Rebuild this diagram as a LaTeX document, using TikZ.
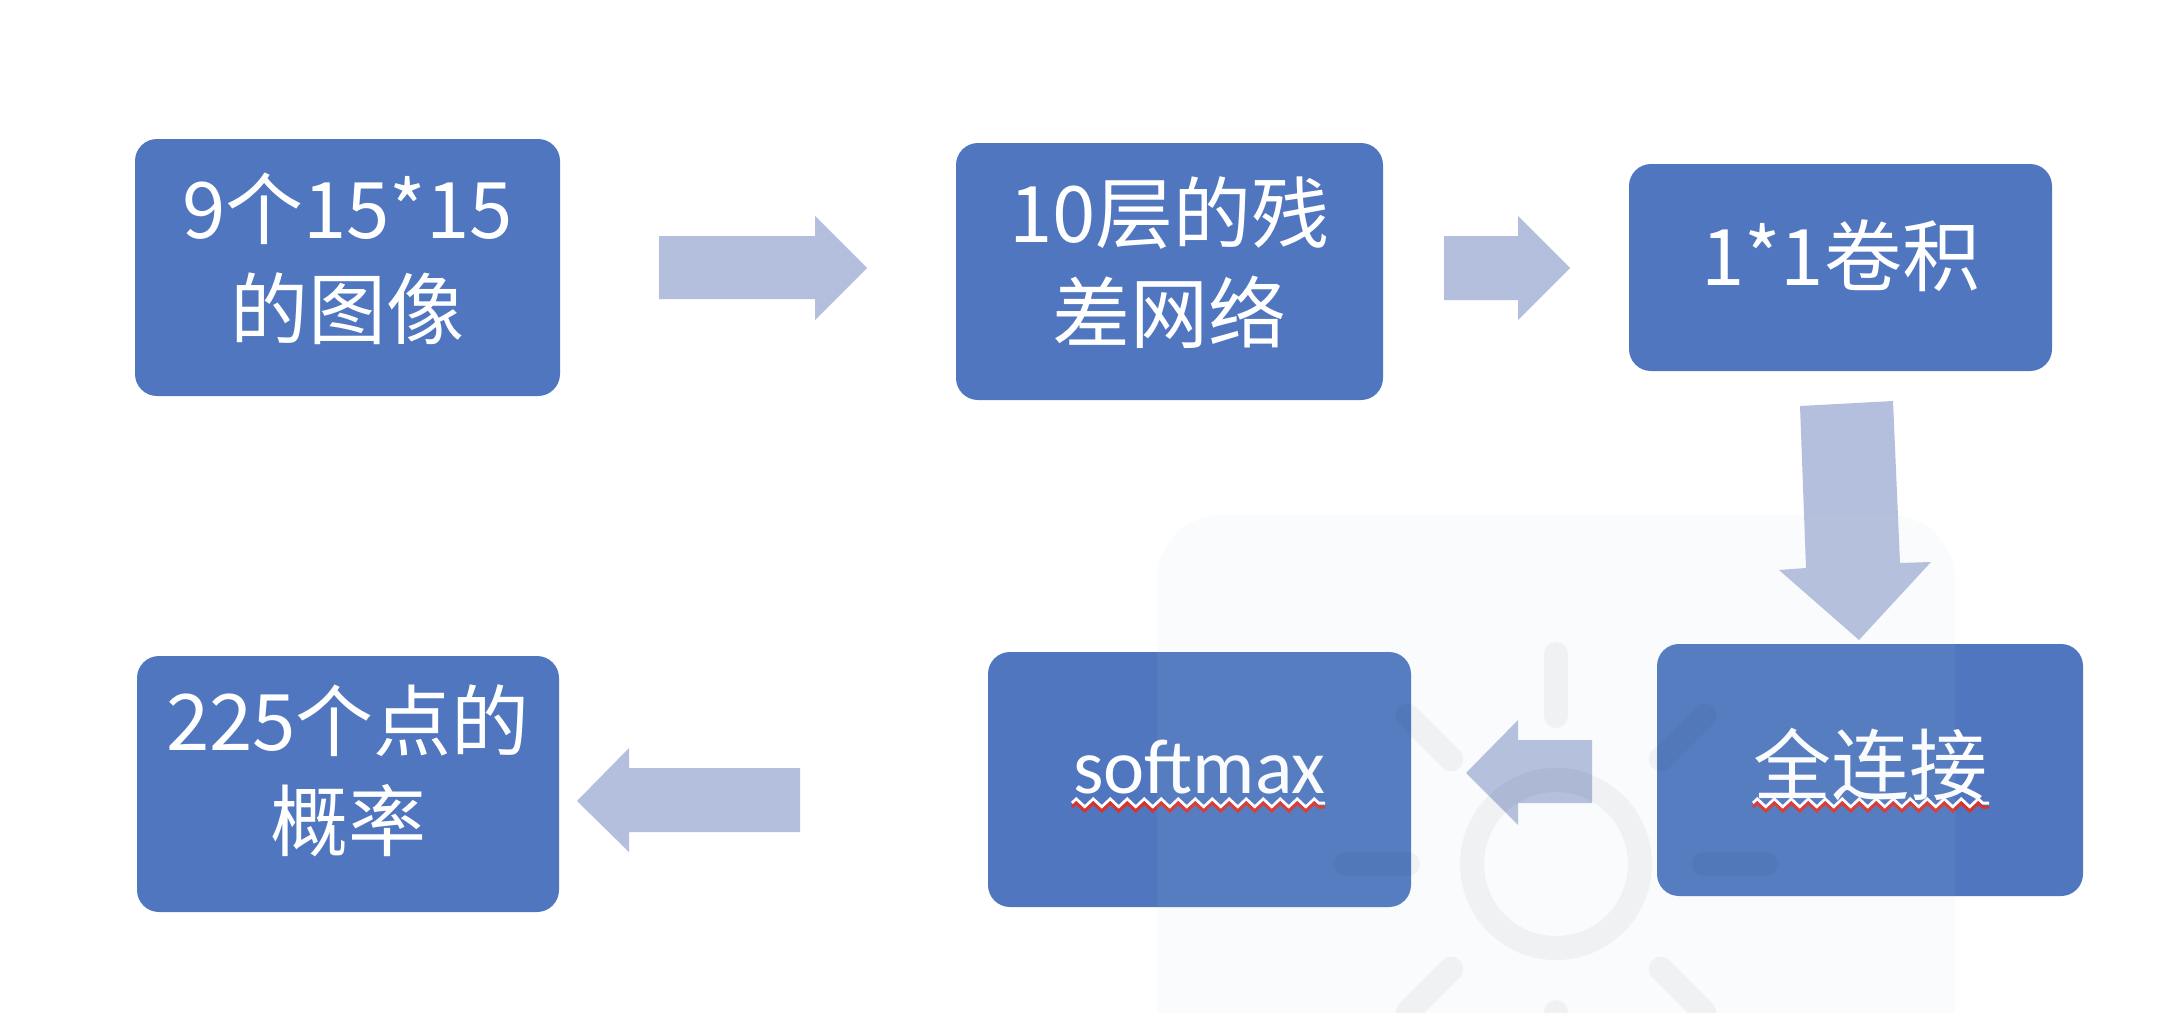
\documentclass[tikz,border=0pt]{standalone}
\usepackage{fontspec}
\newfontfamily\cjk{Noto Sans CJK SC}
\newfontfamily\latin{Carlito}
\usetikzlibrary{decorations.pathmorphing}
\definecolor{boxblue}{HTML}{4F76BF}
\definecolor{arrowblue}{HTML}{B4BFDD}
\definecolor{wmfill}{HTML}{C1D1E5}
\definecolor{squigred}{HTML}{D9342B}
\newcommand\twolines[2]{\begin{tabular}[t]{@{}c@{}}#1\\#2\end{tabular}}
\tikzset{
  stepbox/.style={fill=boxblue, rounded corners=22pt, text=white,
    font=\cjk\fontsize{78}{100}\selectfont, inner sep=0pt},
  blockarrow/.style={fill=arrowblue},
  ray/.style={line width=24pt, line cap=round, draw=black, opacity=0.04},
  squiggle/.style={decorate, decoration={zigzag, segment length=17pt, amplitude=4pt}, line width=3pt},
}
\begin{document}
\begin{tikzpicture}[x=1pt,y=-1pt]
\useasboundingbox (0,0) rectangle (2184,1012);
\fill[white] (0,0) rectangle (2184,1012);

% boxes
\node[stepbox, minimum width=425pt, minimum height=257pt, text height=0pt, text depth=59pt] (b1) at (347.5,267.5) {\twolines{9个15*15}{的图像}};
\node[stepbox, minimum width=427pt, minimum height=257pt, text height=0pt, text depth=59pt] (b2) at (1169.5,271.5) {\twolines{10层的残}{差网络}};
\node[stepbox, minimum width=423pt, minimum height=207pt, text height=35pt, text depth=0pt] (b3) at (1840.5,267.5) {1*1卷积};
\node[stepbox, minimum width=426pt, minimum height=252pt, text height=48pt, text depth=0pt] (b4) at (1870,770) {全连接};
\node[stepbox, minimum width=423pt, minimum height=255pt, text height=27pt, text depth=0pt, font=\latin\fontsize{78}{100}\selectfont] (b5) at (1199.5,779.5) {softmax};
\node[stepbox, minimum width=422pt, minimum height=256pt, text height=0pt, text depth=68pt] (b6) at (348,784) {\twolines{225个点的}{概率}};

% block arrows
\fill[blockarrow] (659,236) -- (815,236) -- (815,216) -- (867,268) -- (815,320) -- (815,299) -- (659,299) -- cycle;
\fill[blockarrow] (1444,236) -- (1518,236) -- (1518,216) -- (1570,268) -- (1518,320) -- (1518,300) -- (1444,300) -- cycle;
\fill[blockarrow] (1800,406) -- (1893,401) -- (1900,563) -- (1931,562) -- (1859,640) -- (1779,570) -- (1806,568) -- cycle;
\fill[blockarrow] (1592,740) -- (1518,740) -- (1518,720) -- (1466,773) -- (1518,825) -- (1518,803) -- (1592,803) -- cycle;
\fill[blockarrow] (800,768) -- (629,768) -- (629,748) -- (577,801) -- (629,852) -- (629,832) -- (800,832) -- cycle;

% spell-check squiggles
\draw[squiggle, white] (1072,803) -- (1325,803);
\draw[squiggle, squigred] (1072,807) -- (1325,807);
\draw[squiggle, white] (1753,803) -- (1989,803);
\draw[squiggle, squigred] (1753,807) -- (1989,807);

% faint watermark overlay
\fill[wmfill, opacity=0.08, rounded corners=65pt] (1157,515) rectangle (1955,1090);
\draw[line width=24pt, draw=black, opacity=0.04] (1556,864) circle (84);
\foreach \a in {0,45,...,315}
  \draw[ray, shift={(1556,864)}] (\a:148) -- (\a:210);
\end{tikzpicture}
\end{document}
